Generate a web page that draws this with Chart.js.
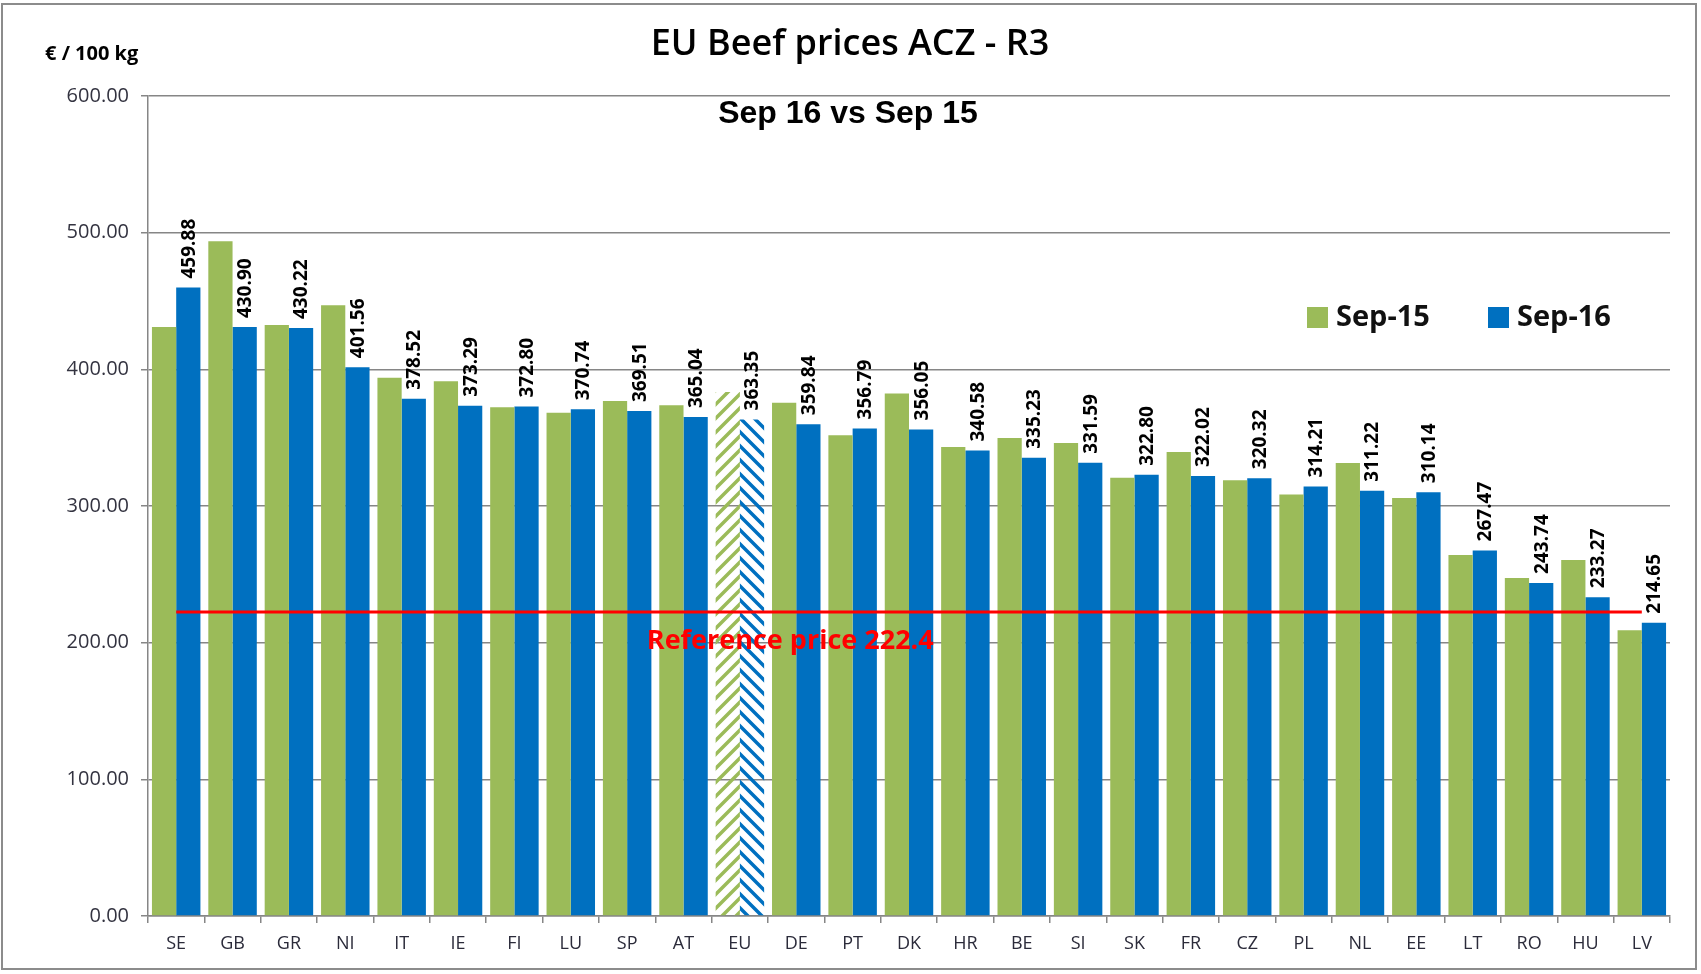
<!DOCTYPE html>
<html>
<head>
<meta charset="utf-8">
<title>EU Beef prices ACZ - R3</title>
<script src="https://cdn.jsdelivr.net/npm/chart.js@4.4.1/dist/chart.umd.min.js"></script>
<style>
    html, body { margin: 0; padding: 0; background: #fff; }
    #wrap { width: 1701px; height: 974px; position: relative; }
</style>
</head>
<body>
<div id="wrap"><canvas id="beefChart" width="1701" height="974"></canvas></div>
<script>
// data
const countries = ['SE','GB','GR','NI','IT','IE','FI','LU','SP','AT','EU','DE','PT','DK','HR','BE','SI','SK','FR','CZ','PL','NL','EE','LT','RO','HU','LV'];
const sep15 = [431.0, 493.7, 432.5, 446.8, 393.9, 391.2, 372.3, 368.2, 376.8, 373.8, 383.5, 375.6, 351.8, 382.4, 343.2, 349.8, 346.1, 320.7, 339.5, 318.8, 308.5, 331.5, 305.9, 264.1, 247.3, 260.5, 209.0];
const sep16 = [459.88, 430.90, 430.22, 401.56, 378.52, 373.29, 372.80, 370.74, 369.51, 365.04, 363.35, 359.84, 356.79, 356.05, 340.58, 335.23, 331.59, 322.80, 322.02, 320.32, 314.21, 311.22, 310.14, 267.47, 243.74, 233.27, 214.65];
const yTicks = [0, 100, 200, 300, 400, 500, 600];
const referencePrice = 222.4;
const euIndex = countries.indexOf('EU');

const GREEN = '#9BBB59';
const BLUE = '#0070C0';
const GRID = '#868686';
const FONT = "'Open Sans', 'DejaVu Sans', sans-serif";

// hatch patterns for the EU average bars
function makeHatch(color, forward) {
    const size = 14;
    const c = document.createElement('canvas');
    c.width = size; c.height = size;
    const g = c.getContext('2d');
    g.strokeStyle = color;
    g.lineWidth = 3.5;
    g.beginPath();
    if (forward) {
        g.moveTo(-2, size + 2); g.lineTo(size + 2, -2);
        g.moveTo(-2, 2); g.lineTo(2, -2);
        g.moveTo(size - 2, size + 2); g.lineTo(size + 2, size - 2);
    } else {
        g.moveTo(-2, -2); g.lineTo(size + 2, size + 2);
        g.moveTo(size - 2, -2); g.lineTo(size + 2, 2);
        g.moveTo(-2, size - 2); g.lineTo(2, size + 2);
    }
    g.stroke();
    return g.createPattern(c, 'repeat');
}
const greenHatch = makeHatch(GREEN, true);
const blueHatch = makeHatch(BLUE, false);

const decorPlugin = {
    id: 'decor',
    beforeDraw(chart) {
        const ctx = chart.ctx;
        ctx.save();
        ctx.fillStyle = '#fff';
        ctx.fillRect(0, 0, chart.width, chart.height);
        ctx.strokeStyle = '#8c8c8c';
        ctx.lineWidth = 2;
        ctx.strokeRect(2, 4, 1694, 965);
        ctx.restore();
    },
    afterDatasetsDraw(chart) {
        const ctx = chart.ctx;
        const x = chart.scales.x, y = chart.scales.y;
        const area = chart.chartArea;

        // reference price line
        const ry = y.getPixelForValue(referencePrice);
        ctx.save();
        ctx.strokeStyle = '#FF0000';
        ctx.lineWidth = 3;
        ctx.beginPath();
        ctx.moveTo(x.getPixelForValue(0), ry);
        ctx.lineTo(x.getPixelForValue(countries.length - 1), ry);
        ctx.stroke();
        ctx.fillStyle = '#FF0000';
        ctx.font = "bold 27px " + FONT;
        ctx.textAlign = 'center';
        ctx.textBaseline = 'middle';
        ctx.fillText('Reference price ' + referencePrice, area.left + (area.right - area.left) * 0.422, ry + 29);
        ctx.restore();

        // vertical value labels on Sep-16 bars
        const meta = chart.getDatasetMeta(1);
        ctx.save();
        ctx.fillStyle = '#000';
        ctx.font = "bold 19px " + FONT;
        ctx.textAlign = 'left';
        ctx.textBaseline = 'middle';
        meta.data.forEach((bar, i) => {
            ctx.save();
            ctx.translate(bar.x, bar.y - 9);
            ctx.rotate(-Math.PI / 2);
            ctx.fillText(sep16[i].toFixed(2), 0, 1);
            ctx.restore();
        });
        ctx.restore();
    },
    afterDraw(chart) {
        const ctx = chart.ctx;
        ctx.save();
        ctx.fillStyle = '#000';
        ctx.textBaseline = 'middle';

        ctx.textAlign = 'center';
        ctx.font = "600 36px " + FONT;
        ctx.fillText('EU Beef prices ACZ - R3', 850, 45);

        ctx.font = "bold 32px 'Liberation Sans', Arial, sans-serif";
        ctx.fillText('Sep 16 vs Sep 15', 848, 114);

        ctx.textAlign = 'left';
        ctx.font = "bold 20px " + FONT;
        ctx.fillText('€ / 100 kg', 45, 54);

        // legend
        const items = [
            { label: chart.data.datasets[0].label, color: GREEN, x: 1307 },
            { label: chart.data.datasets[1].label, color: BLUE, x: 1488 }
        ];
        ctx.font = "bold 29px " + FONT;
        items.forEach(it => {
            ctx.fillStyle = it.color;
            ctx.fillRect(it.x, 307, 21, 21);
            ctx.fillStyle = '#111';
            ctx.fillText(it.label, it.x + 29, 318);
        });
        ctx.restore();
    }
};

new Chart(document.getElementById('beefChart'), {
    type: 'bar',
    data: {
        labels: countries,
        datasets: [
            {
                label: 'Sep-15',
                data: sep15,
                backgroundColor: c => c.dataIndex === euIndex ? greenHatch : GREEN,
                barPercentage: 1.0,
                categoryPercentage: 0.86
            },
            {
                label: 'Sep-16',
                data: sep16,
                backgroundColor: c => c.dataIndex === euIndex ? blueHatch : BLUE,
                barPercentage: 1.0,
                categoryPercentage: 0.86
            }
        ]
    },
    options: {
        responsive: false,
        animation: false,
        layout: { padding: { top: 96, right: 31, bottom: 0, left: 0 } },
        plugins: {
            legend: { display: false },
            title: { display: false },
            tooltip: { enabled: false }
        },
        scales: {
            x: {
                offset: true,
                grid: { display: true, offset: true, drawOnChartArea: false, drawTicks: true, tickLength: 7, color: GRID, lineWidth: 1.5 },
                border: { display: true, color: GRID, width: 1.5 },
                ticks: { color: '#2b2b3a', font: { family: FONT, size: 18 }, padding: 10 },
                afterFit: s => { s.height = 58; }
            },
            y: {
                min: 0,
                max: 600,
                afterBuildTicks: s => { s.ticks = yTicks.map(v => ({ value: v })); },
                grid: { color: GRID, lineWidth: 1.5, drawTicks: true, tickLength: 7 },
                border: { display: true, color: GRID, width: 1.5 },
                ticks: {
                    color: '#333340',
                    font: { family: FONT, size: 20 },
                    padding: 12,
                    callback: v => Number(v).toFixed(2)
                },
                afterFit: s => { s.width = 148; }
            }
        }
    },
    plugins: [decorPlugin]
});
</script>
</body>
</html>
